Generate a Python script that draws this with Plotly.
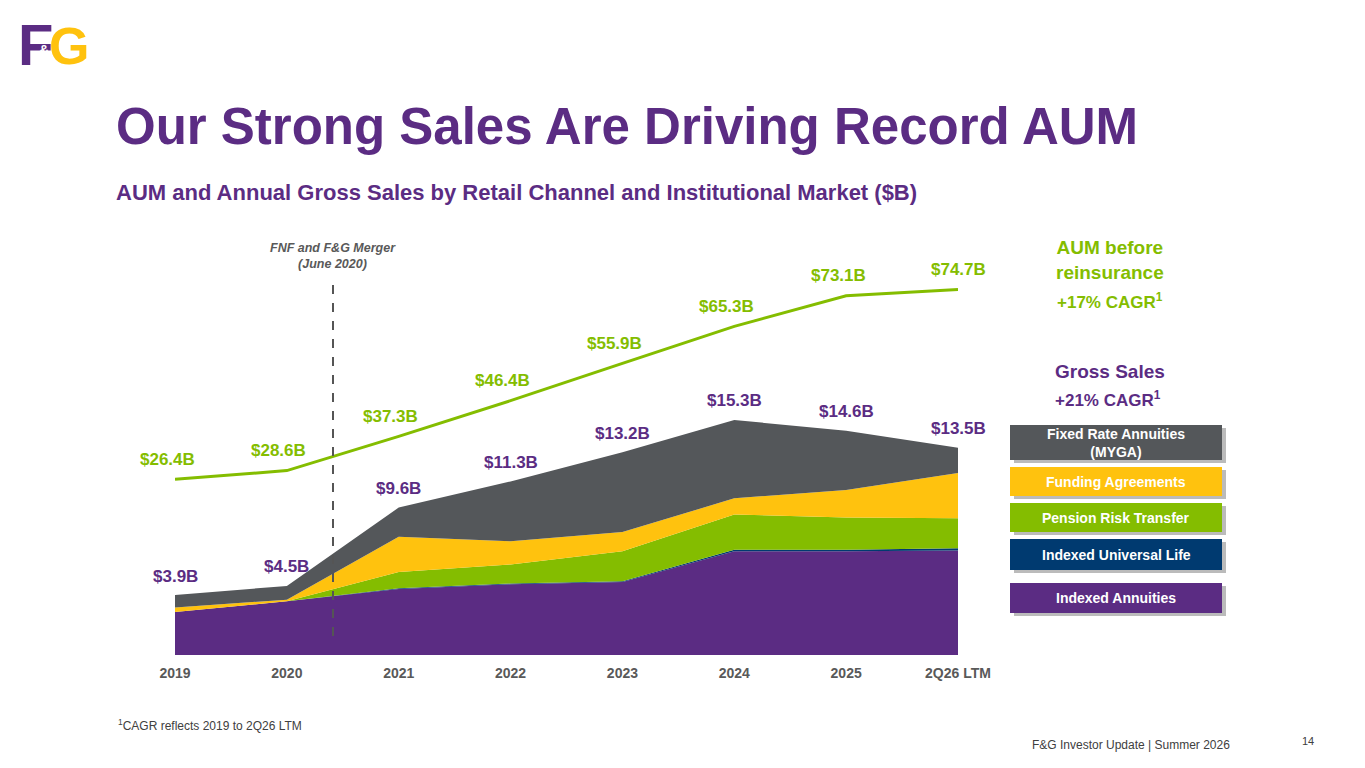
import plotly.graph_objects as go

years = ["2019","2020","2021","2022","2023","2024","2025","2Q26 LTM"]
ia   = [2.8, 3.5, 4.3, 4.6, 4.75, 6.75, 6.75, 6.8]
iul  = [0.0, 0.0, 0.05, 0.05, 0.05, 0.1, 0.1, 0.15]
prt  = [0.0, 0.0, 1.05, 1.25, 1.95, 2.3, 2.1, 1.95]
fa   = [0.3, 0.1, 2.3, 1.5, 1.25, 1.05, 1.8, 2.95]
myga = [0.8, 0.9, 1.9, 3.9, 5.2, 5.1, 3.85, 1.65]
gross_labels = ["$3.9B","$4.5B","$9.6B","$11.3B","$13.2B","$15.3B","$14.6B","$13.5B"]
aum = [26.4, 28.6, 37.3, 46.4, 55.9, 65.3, 73.1, 74.7]
aum_labels = ["$26.4B","$28.6B","$37.3B","$46.4B","$55.9B","$65.3B","$73.1B","$74.7B"]

PURPLE="#5B2C83"; NAVY="#003A70"; GREEN="#84BD00"; YELLOW="#FFC20E"; GRAY="#54575A"
W, H, OFF = 1365, 768, 8
x = list(range(len(years)))
fig = go.Figure()
for name, vals, col in [("Indexed Annuities",ia,PURPLE),("Indexed Universal Life",iul,NAVY),
                        ("Pension Risk Transfer",prt,GREEN),("Funding Agreements",fa,YELLOW),
                        ("Fixed Rate Annuities (MYGA)",myga,GRAY)]:
    fig.add_trace(go.Scatter(x=x, y=vals, stackgroup="s", mode="none", fillcolor=col,
                             line=dict(width=0), name=name, hoverinfo="skip"))
fig.add_trace(go.Scatter(x=x, y=aum, yaxis="y2", mode="lines", line=dict(color=GREEN, width=3)))

def px(v): return (v-OFF)/W
def py(v): return 1-(v-OFF)/H
L, R, T, B = 172, 955, 240, 653

totals = [a+b+c+d+e for a,b,c,d,e in zip(ia,iul,prt,fa,myga)]
ann = []
for i in x:
    ann.append(dict(x=i, y=totals[i], xref="x", yref="y", text=f"<b>{gross_labels[i]}</b>", showarrow=False,
                    yshift=19, font=dict(size=17, color=PURPLE, family="Arial")))
    ann.append(dict(x=i, y=aum[i], xref="x", yref="y2", text=f"<b>{aum_labels[i]}</b>", showarrow=False,
                    yshift=20, xshift=(-8 if i < 7 else 0), font=dict(size=17, color=GREEN, family="Arial")))
def txt(xp, yp, t, size, color, xa="left", fam="Arial"):
    ann.append(dict(x=px(xp), y=py(yp), xref="paper", yref="paper", text=t, showarrow=False,
                    xanchor=xa, yanchor="middle", font=dict(size=size, color=color, family=fam)))
txt(114, 127, "<b>Our Strong Sales Are Driving Record AUM</b>", 51, PURPLE)
txt(114, 193, "<b>AUM and Annual Gross Sales by Retail Channel and Institutional Market ($B)</b>", 22, PURPLE)
txt(333, 256, "<b><i>FNF and F&G Merger<br>(June 2020)</i></b>", 12.5, "#595959", "center")
txt(1110, 260, "<b>AUM before<br>reinsurance</b>", 19, GREEN, "center")
txt(1110, 301, "<b>+17% CAGR<sup>1</sup></b>", 17, GREEN, "center")
txt(1110, 371, "<b>Gross Sales</b>", 19, PURPLE, "center")
txt(1108, 399, "<b>+21% CAGR<sup>1</sup></b>", 17, PURPLE, "center")
txt(116, 725, "<sup>1</sup>CAGR reflects 2019 to 2Q26 LTM", 12, "#404040")
txt(1030, 745, "F&G Investor Update | Summer 2026", 12, "#404040")
txt(1300, 741, "14", 11, "#404040")
txt(16, 44, "<b>F</b>", 58, PURPLE, fam="Liberation Sans")
txt(47, 46, "<b>G</b>", 52, YELLOW, fam="Liberation Sans")
txt(37, 50, "<b>&</b>", 14, "white")

shapes = [dict(type="line", xref="paper", yref="paper", x0=px(333), x1=px(333), y0=py(285), y1=py(637),
               line=dict(color="#555", width=2, dash="dash"))]
legend = [("Fixed Rate Annuities<br>(MYGA)", GRAY, 425, 460), ("Funding Agreements", YELLOW, 467, 496),
          ("Pension Risk Transfer", GREEN, 503, 532), ("Indexed Universal Life", NAVY, 539, 570),
          ("Indexed Annuities", PURPLE, 583, 613)]
for t, c, y0, y1 in legend:
    shapes.append(dict(type="rect", xref="paper", yref="paper", x0=px(1014), x1=px(1226), y0=py(y1+3), y1=py(y0+3),
                       fillcolor="#BBBBBB", line=dict(width=0)))
    shapes.append(dict(type="rect", xref="paper", yref="paper", x0=px(1010), x1=px(1222), y0=py(y1), y1=py(y0),
                       fillcolor=c, line=dict(width=0)))
    ann.append(dict(x=px(1116), y=py((y0+y1)/2), xref="paper", yref="paper", text=f"<b>{t}</b>", showarrow=False,
                    xanchor="center", yanchor="middle", font=dict(size=14, color="white", family="Arial")))

fig.update_layout(width=W, height=H, margin=dict(l=0, r=0, t=0, b=0, autoexpand=False),
                  plot_bgcolor="white", paper_bgcolor="white", showlegend=False,
                  xaxis=dict(domain=[px(L+3), px(R+3)], range=[0,7], tickvals=x, ticktext=[f"<b>{y}</b>" for y in years],
                             showgrid=False, zeroline=False, ticklen=0, ticklabelstandoff=8,
                             tickfont=dict(size=14, color="#595959", family="Arial")),
                  yaxis=dict(domain=[py(B+2), py(T+2)], range=[0, (B-T)/15.36], visible=False),
                  yaxis2=dict(range=[-72/3.93, (581-T)/3.93], overlaying="y", visible=False),
                  annotations=ann, shapes=shapes)
fig.write_html("out.html")
